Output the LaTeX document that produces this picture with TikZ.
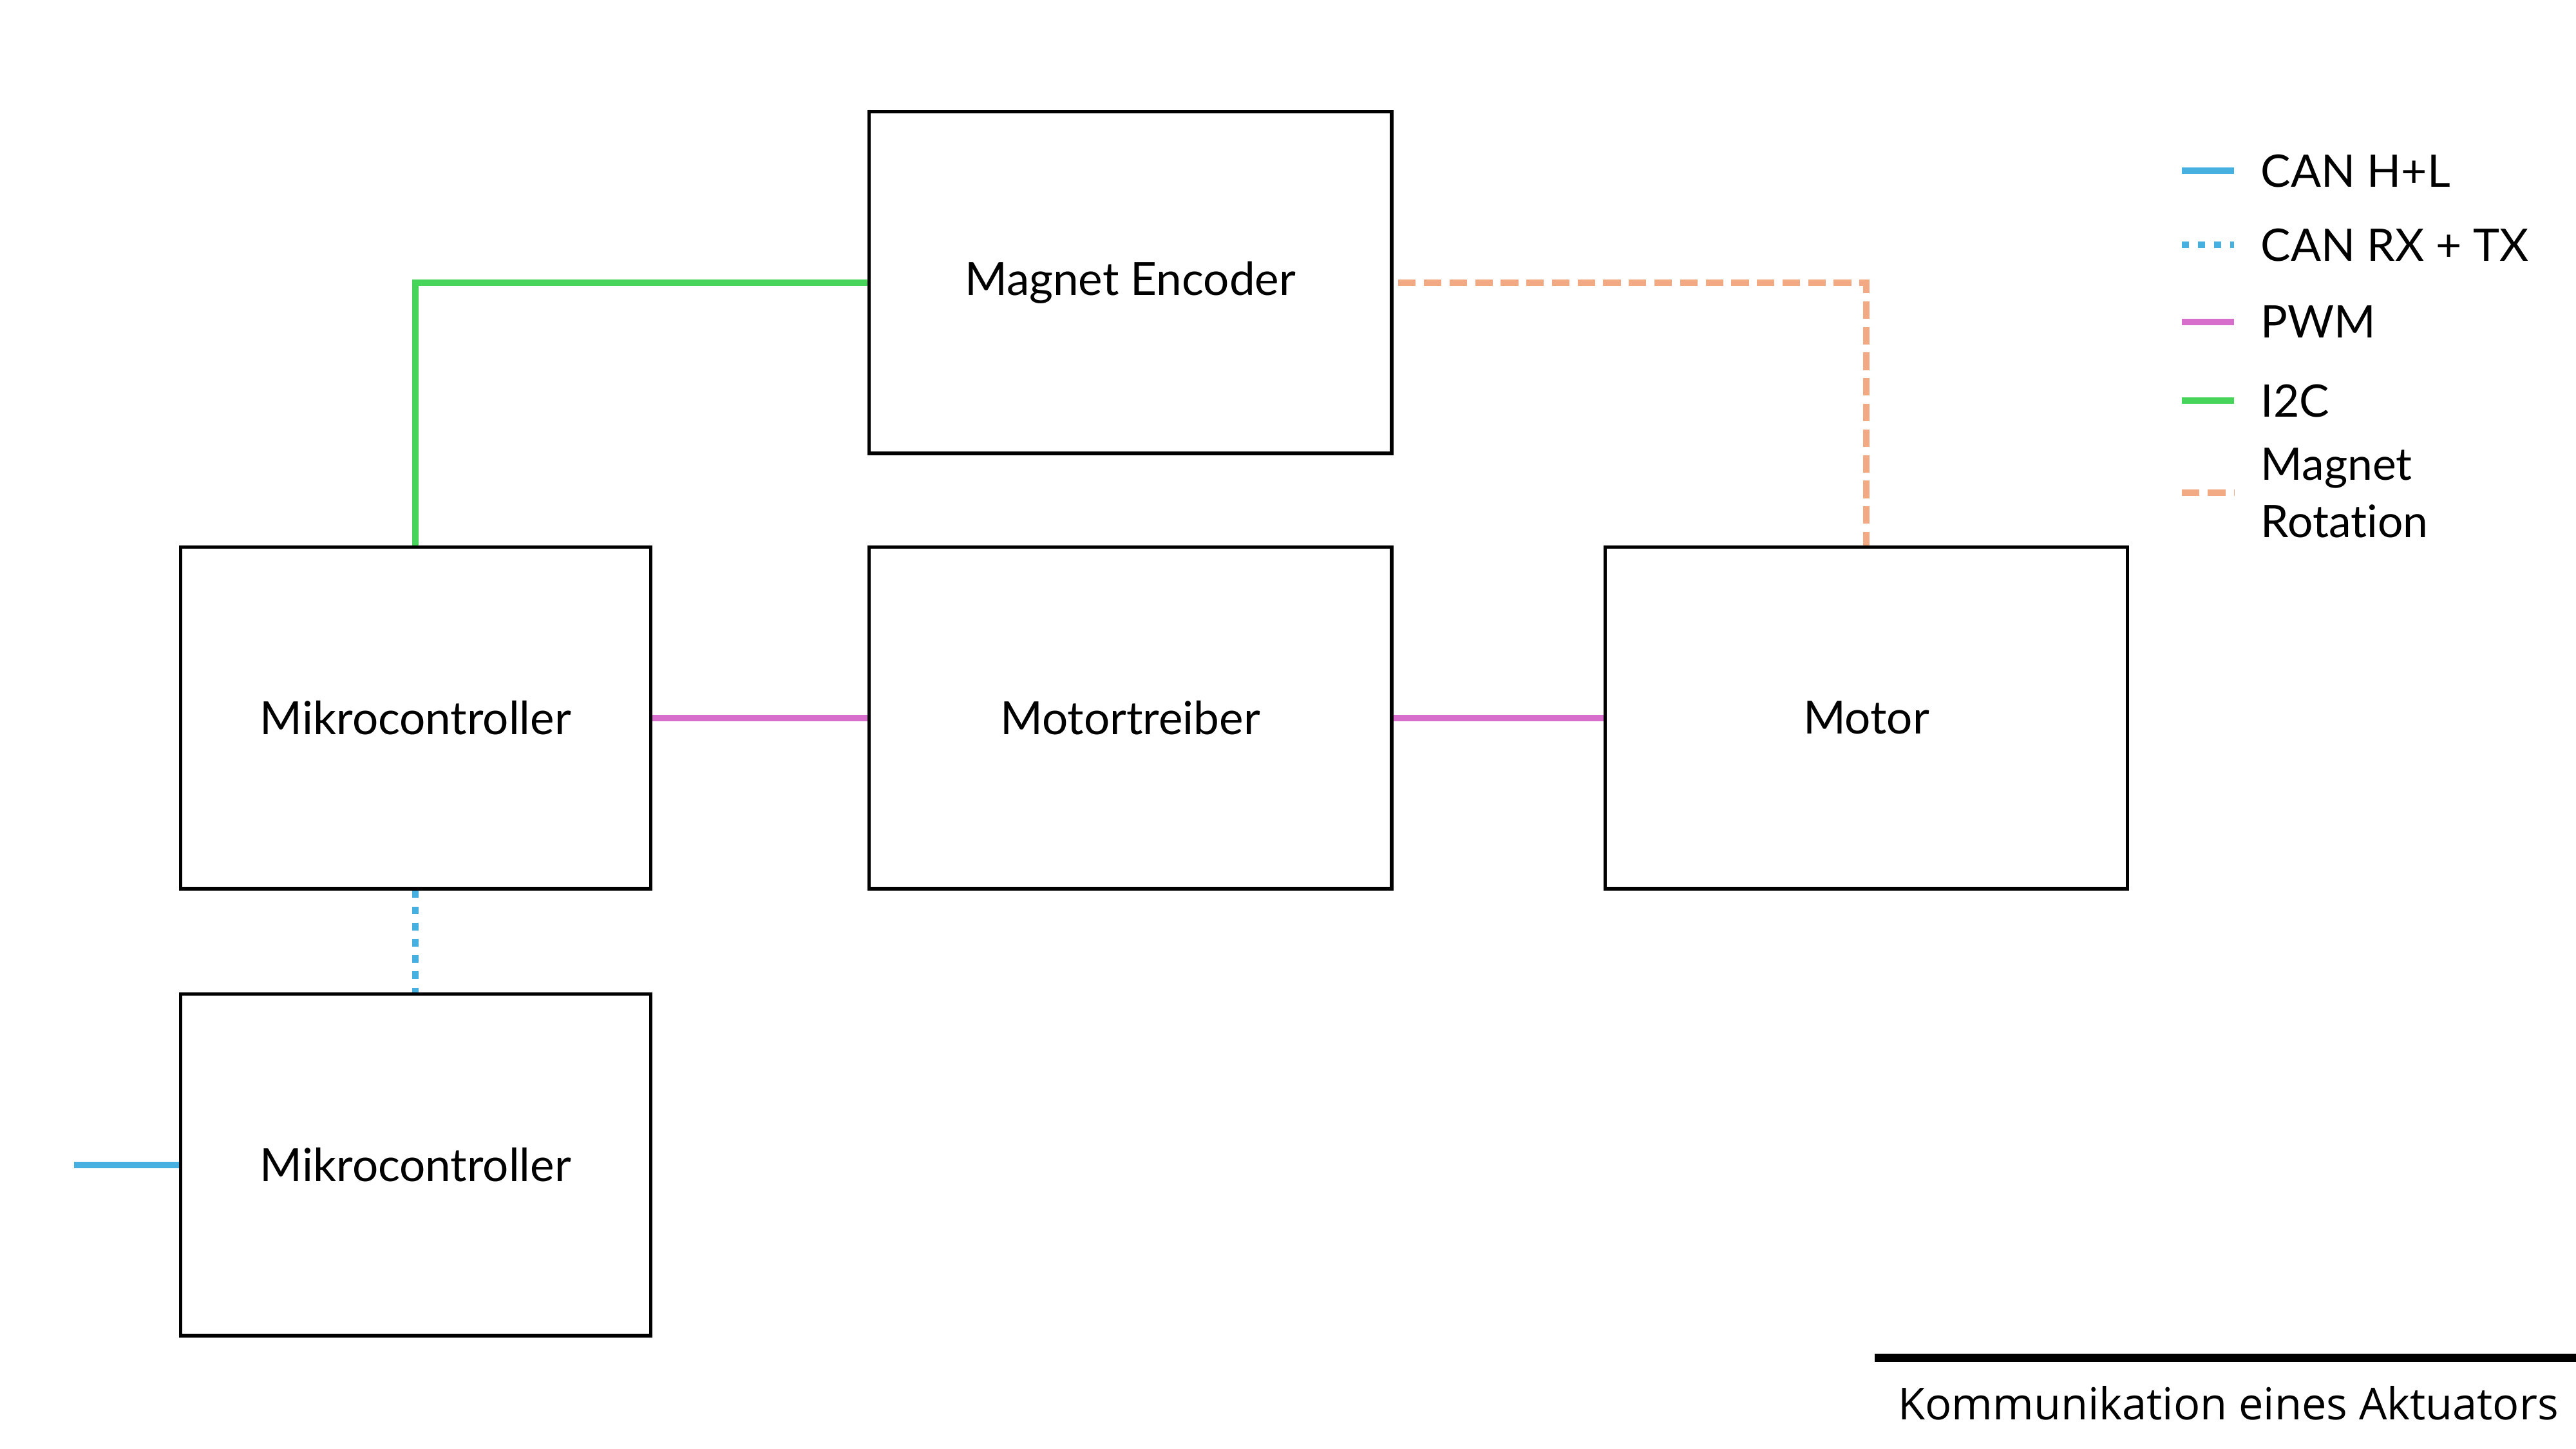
\documentclass[tikz,border=0pt]{standalone}
\usepackage{fontspec}
\setmainfont{Lato}[Ligatures={NoCommon,NoRare}]
\newfontfamily\titlefont{Open Sans}
\definecolor{canblue}{HTML}{46B1E1}
\definecolor{pwmpink}{HTML}{D86ECC}
\definecolor{ictgreen}{HTML}{47D45A}
\definecolor{magorange}{HTML}{F2AA84}
\tikzset{
  blockbox/.style={draw=black, line width=1.5pt, rectangle, inner sep=0pt,
    minimum height=5.2cm, font=\fontsize{19.8}{23}\selectfont},
  widebox/.style={blockbox, minimum width=7.95cm},
  narrowbox/.style={blockbox, minimum width=7.15cm},
  canline/.style={draw=canblue, line width=2.8pt},
  canrxtx/.style={draw=canblue, line width=2.8pt, dash pattern=on 3.2pt off 3.8pt},
  pwmline/.style={draw=pwmpink, line width=2.8pt},
  i2cline/.style={draw=ictgreen, line width=2.8pt},
  magline/.style={draw=magorange, line width=2.8pt, dash pattern=on 7.6pt off 3.7pt},
  magconn/.style={magline, dash pattern=on 7.6pt off 3.49pt},
  legtext/.style={anchor=west, inner sep=0pt, font=\fontsize{19.4}{25}\selectfont, align=left}
}
\begin{document}
\begin{tikzpicture}[x=0.025cm, y=-0.025cm]
\useasboundingbox (0,0) rectangle (1568,882);
% blocks
\node[widebox] (enc) at (688,172) {Magnet Encoder};
\node[narrowbox] (mc1) at (253,437) {Mikrocontroller};
\node[widebox] (mt) at (688,437) {Motortreiber};
\node[widebox] (mot) at (1136,437) {Motor};
\node[narrowbox] (mc2) at (253,709) {Mikrocontroller};
% connectors
\draw[i2cline] (mc1.north) |- (enc.west);
\draw[magconn] ([xshift=0.075cm]enc.east) -| (mot.north);
\draw[pwmline] (mc1.east) -- (mt.west);
\draw[pwmline] (mt.east) -- (mot.west);
\draw[canrxtx] (mc1.south) -- (mc2.north);
\coordinate (canfree) at (45,709);
\draw[canline] (canfree) -- (mc2.west);
% legend
\coordinate (l1a) at (1328,104); \coordinate (l1b) at (1360,104);
\coordinate (l2a) at (1328,149); \coordinate (l2b) at (1360,149);
\coordinate (l3a) at (1328,196); \coordinate (l3b) at (1360,196);
\coordinate (l4a) at (1328,244); \coordinate (l4b) at (1360,244);
\coordinate (l5a) at (1328,300); \coordinate (l5b) at (1360,300);
\draw[canline] (l1a) -- (l1b);
\draw[canrxtx] (l2a) -- (l2b);
\draw[pwmline] (l3a) -- (l3b);
\draw[i2cline] (l4a) -- (l4b);
\draw[magline] (l5a) -- (l5b);
\node[legtext] (t1) at (1376,104) {CAN H+L};
\node[legtext] (t2) at (1376,149) {CAN RX + TX};
\node[legtext] (t3) at (1376,196) {PWM};
\node[legtext] (t4) at (1376,244) {I2C};
\node[legtext] (t5) at (1376,300) {Magnet\\Rotation};
% title
\coordinate (ta) at (1141,826.6); \coordinate (tb) at (1568,826.6);
\draw[black, line width=3.5pt] (ta) -- (tb);
\node[font=\titlefont\fontsize{19.1}{23}\selectfont, inner sep=0pt, anchor=base west] (title) at (1155,864) {Kommunikation eines Aktuators};
\end{tikzpicture}
\end{document}
